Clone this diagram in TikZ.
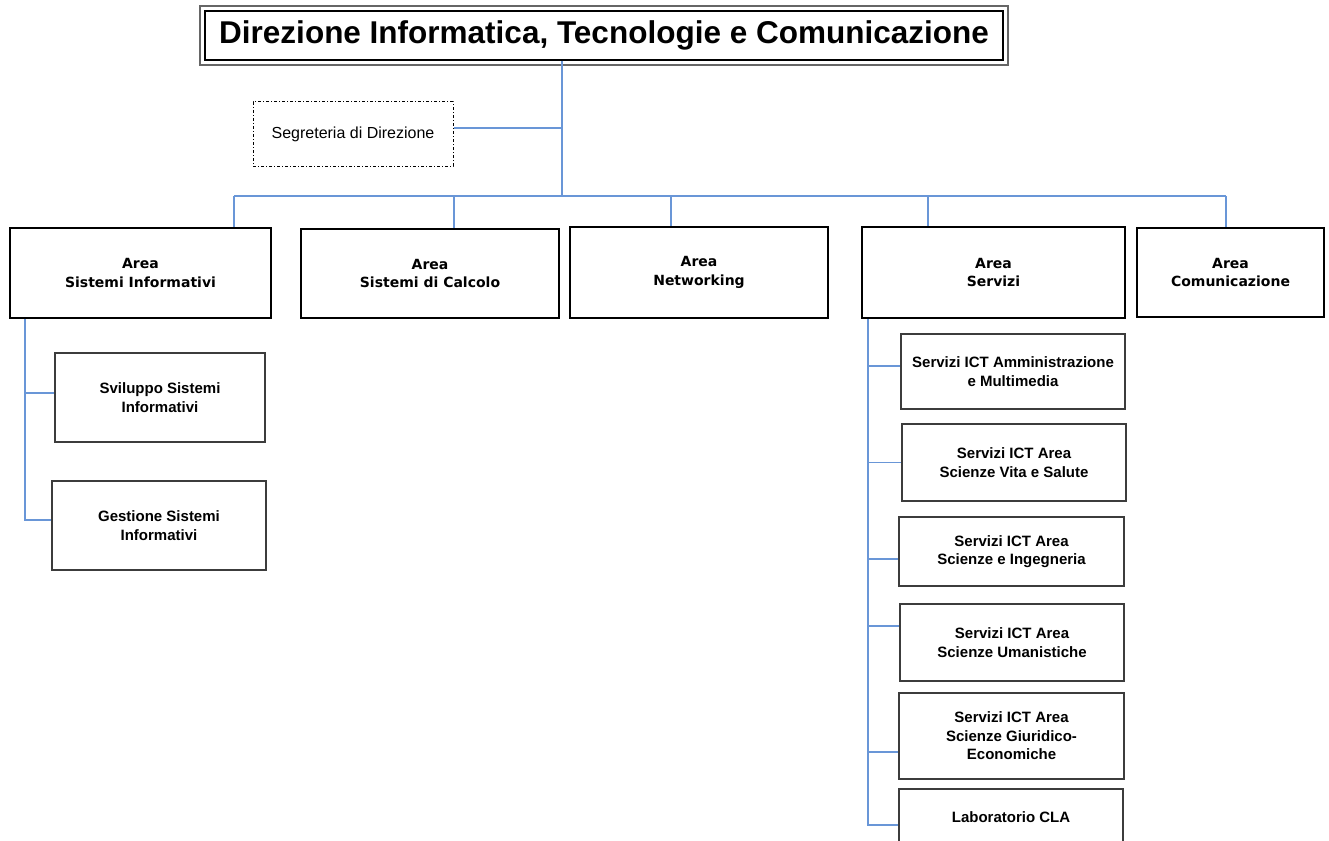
\documentclass[tikz,border=0pt]{standalone}
\usepackage{fontspec}
\setmainfont{Liberation Sans}
\newfontfamily\areafont{DejaVu Sans}
\definecolor{linkblue}{RGB}{105,150,215}
\definecolor{boxgray}{RGB}{60,60,60}

\begin{document}
\begin{tikzpicture}[x=1pt,y=-1pt,
  areabox/.style={draw,line width=2.2pt,align=center,inner sep=0pt,
    font=\areafont\bfseries\fontsize{14}{18.5}\selectfont},
  subbox/.style={draw=boxgray,line width=1.4pt,align=center,inner sep=0pt,
    font=\bfseries\fontsize{15}{18.5}\selectfont},
  link/.style={draw=linkblue,line width=1.2pt}]
\useasboundingbox (0,0) rectangle (1329,840);
\clip (0,0) rectangle (1329,840);

% title
\node[draw,line width=1.5pt,minimum width=798pt,minimum height=49pt,
  font=\bfseries\fontsize{31.5}{36}\selectfont] (title) at (604,35.5)
  {Direzione Informatica, Tecnologie e Comunicazione};
\draw[gray!80!black,line width=2pt] ([shift={(-4,-4)}]title.north west)
  rectangle ([shift={(4,4)}]title.south east);

% segreteria
\node[draw,line width=1pt,dash pattern=on 3pt off 2pt on 1pt off 2pt,
  minimum width=200pt,minimum height=64pt,
  font=\fontsize{16}{19}\selectfont] (seg) at (353,134) {Segreteria di Direzione};

% areas
\node[areabox,minimum width=261pt,minimum height=90pt] (si) at (140.5,273)
  {Area\\Sistemi Informativi};
\node[areabox,minimum width=258pt,minimum height=89pt] (sdc) at (430,273.5)
  {Area\\Sistemi di Calcolo};
\node[areabox,minimum width=258pt,minimum height=91pt] (net) at (699,272.5)
  {Area\\Networking};
\node[areabox,minimum width=263pt,minimum height=91pt] (serv) at (993.5,272.5)
  {Area\\Servizi};
\node[areabox,minimum width=187pt,minimum height=89pt] (com) at (1230.5,272.5)
  {Area\\Comunicazione};

% sistemi informativi
\node[subbox,minimum width=210pt,minimum height=89pt] (svil) at (160,397.5)
  {Sviluppo Sistemi\\Informativi};
\node[subbox,minimum width=214pt,minimum height=89pt] (gest) at (159,525.5)
  {Gestione Sistemi\\Informativi};

% servizi
\node[subbox,minimum width=224pt,minimum height=75pt] (s1) at (1013,371.5)
  {Servizi ICT Amministrazione\\e Multimedia};
\node[subbox,minimum width=224pt,minimum height=77pt] (s2) at (1014,462.5)
  {Servizi ICT Area\\Scienze Vita e Salute};
\node[subbox,minimum width=225pt,minimum height=69pt] (s3) at (1011.5,551.5)
  {Servizi ICT Area\\Scienze e Ingegneria};
\node[subbox,minimum width=224pt,minimum height=77pt] (s4) at (1012,642.5)
  {Servizi ICT Area\\Scienze Umanistiche};
\node[subbox,minimum width=225pt,minimum height=86pt] (s5) at (1011.5,736)
  {Servizi ICT Area\\Scienze Giuridico-\\Economiche};
\node[subbox,minimum width=224pt,minimum height=56pt] (s6) at (1011,817)
  {Laboratorio CLA};

% top connectors
\coordinate (hub) at (562,196);
\draw[link] ([xshift=-42pt]title.south) -- (hub);
\draw[link] ([yshift=6pt]seg.east) -- ([yshift=6pt]seg.east -| hub);
\draw[link] (234,196) -- (1226,196);
\foreach \n/\x in {si/234,sdc/454,net/671,serv/928,com/1226}
  \draw[link] (\x,196) -- (\n.north -| \x,0);

% sistemi informativi connectors
\draw[link] ([xshift=16pt]si.south west) |- ([yshift=4.5pt]svil.west);
\draw[link] ([xshift=16pt]si.south west) |- ([yshift=5.5pt]gest.west);

% servizi connectors
\foreach \n/\d in {s1/5.5,s2/0,s3/-7.5,s4/16.5,s5/-16,s6/-8}
  \draw[link] ([xshift=7pt]serv.south west) |- ([yshift=\d pt]\n.west);

\end{tikzpicture}
\end{document}
